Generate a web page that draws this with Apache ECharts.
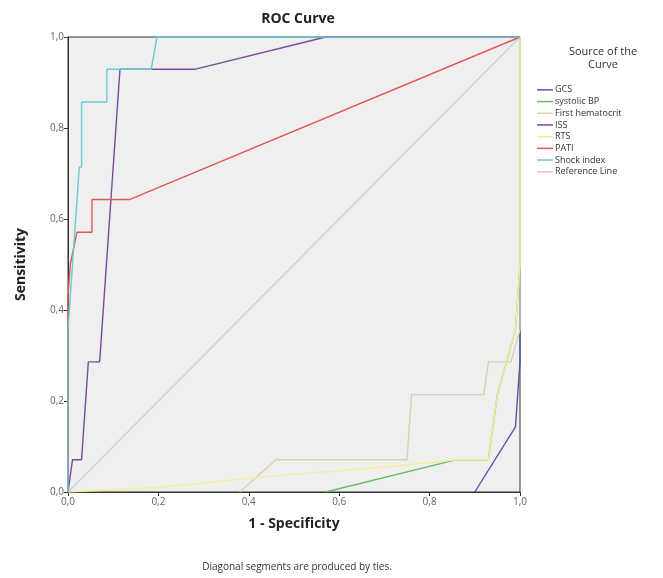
<!DOCTYPE html>
<html>
<head>
<meta charset="utf-8">
<script src="https://cdn.jsdelivr.net/npm/echarts@6/dist/echarts.min.js"></script>
<style>
  html, body { margin: 0; padding: 0; background: #fff; }
</style>
</head>
<body>
<div id="roc" style="width:663px;height:578px"></div>
<script>
  // ROC points, [1 - specificity, sensitivity]
  var gcs = [[0.90, 0], [0.99, 0.143], [1, 0.286], [1, 1]];
  var systolicBP = [[0.57, 0], [0.86, 0.071], [0.93, 0.071], [0.95, 0.214], [0.99, 0.357], [1, 0.5], [1, 1]];
  var firstHematocrit = [[0.38, 0], [0.46, 0.071], [0.75, 0.071], [0.76, 0.214], [0.92, 0.214], [0.93, 0.286], [0.98, 0.286], [1, 0.357], [1, 1]];
  var iss = [[0, 0], [0.01, 0.071], [0.03, 0.071], [0.045, 0.286], [0.07, 0.286], [0.115, 0.929], [0.28, 0.929], [0.57, 1], [1, 1]];
  var rts = [[0, 0], [0.2, 0.01], [0.45, 0.035], [0.7, 0.055], [0.86, 0.071], [0.93, 0.071], [0.95, 0.214], [0.99, 0.357], [1, 0.5], [1, 1]];
  var pati = [[0, 0], [0, 0.429], [0.005, 0.5], [0.02, 0.571], [0.053, 0.571], [0.053, 0.643], [0.137, 0.643], [1, 1]];
  var shockIndex = [[0, 0], [0, 0.357], [0.01, 0.5], [0.015, 0.571], [0.02, 0.643], [0.025, 0.714], [0.03, 0.714], [0.03, 0.857], [0.086, 0.857], [0.086, 0.929], [0.184, 0.929], [0.197, 1], [1, 1]];
  var referenceLine = [[0, 0], [1, 1]];

  var seriesNames = ['GCS', 'systolic BP', 'First hematocrit', 'ISS', 'RTS', 'PATI', 'Shock index', 'Reference Line'];
  var seriesData = [gcs, systolicBP, firstHematocrit, iss, rts, pati, shockIndex, referenceLine];
  var seriesColors = ['#4a5aa8', '#62bf5a', '#d8d2ae', '#7b4a9a', '#f2ee9a', '#e0575a', '#67cbd3', '#cfcfcf'];

  var chart = echarts.init(document.getElementById('roc'));
  var fmt = function (v) { return v.toFixed(1).replace('.', ','); };

  var series = seriesNames.map(function (name, i) {
    return {
      name: name,
      type: 'line',
      data: seriesData[i],
      symbol: 'none',
      animation: false,
      z: i === 7 ? 1 : 3,
      lineStyle: { color: seriesColors[i], width: 1.4 },
      itemStyle: { color: seriesColors[i] }
    };
  });

  var option = {
    backgroundColor: '#fff',
    textStyle: { fontFamily: 'Open Sans, DejaVu Sans, sans-serif' },
    title: [
      {
        text: 'ROC Curve',
        left: 293, top: 7, textAlign: 'center',
        textStyle: { fontSize: 14, fontWeight: 'bold', color: '#222' }
      },
      {
        text: 'Source of the\nCurve',
        left: 598, top: 40, textAlign: 'center',
        textStyle: { fontSize: 11, fontWeight: 'normal', color: '#333', lineHeight: 13 }
      },
      {
        text: 'Diagonal segments are produced by ties.',
        left: 292, top: 557, textAlign: 'center',
        textStyle: { fontSize: 10, fontWeight: 'normal', color: '#333' }
      }
    ],
    legend: {
      orient: 'vertical',
      left: 537, top: 84,
      padding: 0,
      icon: 'rect',
      itemWidth: 16, itemHeight: 1.5, itemGap: 0,
      textStyle: { fontSize: 9, color: '#333', lineHeight: 11.7, height: 11.7, padding: [0, 0, 0, -3] },
      data: seriesNames
    },
    grid: { left: 68, right: 143, top: 37, bottom: 86, show: true, backgroundColor: '#efefef', borderColor: '#333', borderWidth: 1 },
    xAxis: {
      type: 'value', min: 0, max: 1, interval: 0.2,
      name: '1 - Specificity', nameLocation: 'middle', nameGap: 25,
      nameTextStyle: { fontSize: 14, fontWeight: 'bold', color: '#222' },
      axisLine: { show: true, lineStyle: { color: '#333' } },
      axisTick: { show: true, length: 4, lineStyle: { color: '#333' } },
      axisLabel: { formatter: fmt, fontSize: 10, color: '#666', margin: 5 },
      splitLine: { show: false }
    },
    yAxis: {
      type: 'value', min: 0, max: 1, interval: 0.2,
      name: 'Sensitivity', nameLocation: 'middle', nameGap: 40,
      nameTextStyle: { fontSize: 14, fontWeight: 'bold', color: '#222' },
      axisLine: { show: true, lineStyle: { color: '#333' } },
      axisTick: { show: true, length: 4, lineStyle: { color: '#333' } },
      axisLabel: { formatter: fmt, fontSize: 10, color: '#666', margin: 4 },
      splitLine: { show: false }
    },
    series: series
  };

  chart.setOption(option);
  window.addEventListener('resize', function () { chart.resize(); });
</script>
</body>
</html>
